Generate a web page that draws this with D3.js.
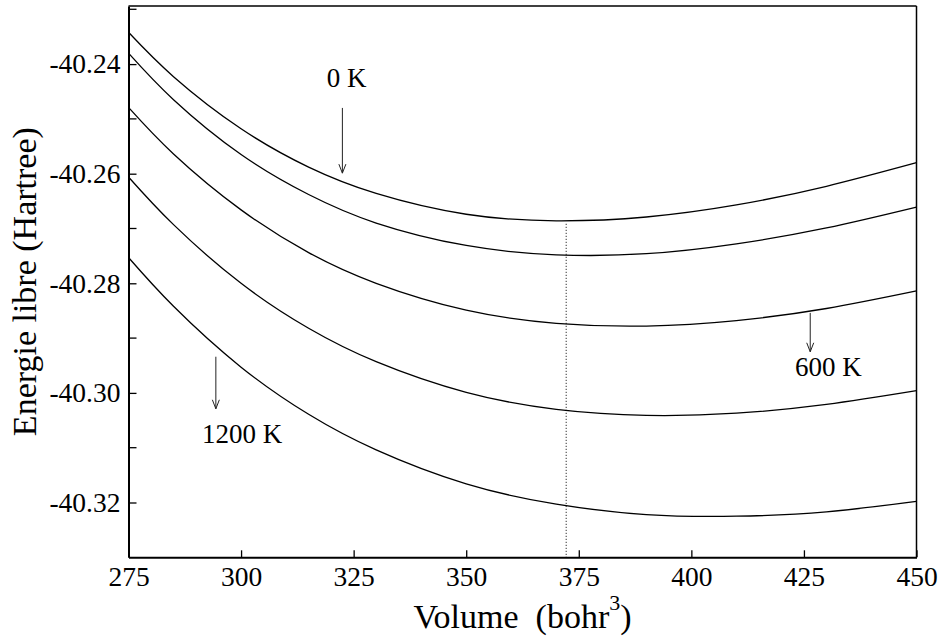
<!DOCTYPE html>
<html>
<head>
<meta charset="utf-8">
<script src="https://cdn.jsdelivr.net/npm/d3@7"></script>
<style>
  html, body { margin: 0; padding: 0; background: #fff; }
  svg { display: block; font-family: "Liberation Serif", "Times New Roman", serif; }
</style>
</head>
<body>
<svg id="chart" width="942" height="640"></svg>
<script>
// Free energy vs. volume at several temperatures
const volumes = [275, 285, 300, 315, 330, 350, 370, 390, 410, 430, 450];
const energy0K    = [-40.2342, -40.2423, -40.2518, -40.2588, -40.2636, -40.2674, -40.2686, -40.2679, -40.2657, -40.2623, -40.2580];
const energy300K  = [-40.2380, -40.2465, -40.2565, -40.2638, -40.2690, -40.2731, -40.2748, -40.2746, -40.2728, -40.2699, -40.2661];
const energy600K  = [-40.2479, -40.2564, -40.2666, -40.2744, -40.2800, -40.2849, -40.2873, -40.2878, -40.2868, -40.2846, -40.2814];
const energy900K  = [-40.2606, -40.2693, -40.2800, -40.2882, -40.2943, -40.2999, -40.3030, -40.3041, -40.3037, -40.3021, -40.2996];
const energy1200K = [-40.2753, -40.2842, -40.2953, -40.3039, -40.3104, -40.3166, -40.3203, -40.3222, -40.3225, -40.3217, -40.3198];
const seriesList = [energy0K, energy300K, energy600K, energy900K, energy1200K];

const xTicks = [275, 300, 325, 350, 375, 400, 425, 450];
const yTicks = [-40.32, -40.30, -40.28, -40.26, -40.24];
const yMinorTicks = [-40.33, -40.31, -40.29, -40.27, -40.25, -40.23];
const xDomain = [275, 450];
const yDomain = [-40.33, -40.2294];

// equilibrium volume at 0 K (dotted marker)
const eqVolume = 372.2;
const eqEnergy = -40.2686;

// annotations: label, arrow x, arrow start/end energy, label position
const notes = [
  { text: "0 K",    ax: 322.5, y0: -40.2480, y1: -40.2599, tx: 319.0, ty: -40.2442 },
  { text: "600 K",  ax: 426.4, y0: -40.2854, y1: -40.2925, tx: 423.0, ty: -40.2969 },
  { text: "1200 K", ax: 294.4, y0: -40.2934, y1: -40.3029, tx: 291.3, ty: -40.3091 }
];

const svg = d3.select("#chart");
const plotLeft = 128.5, plotRight = 916.5, plotTop = 6, plotBottom = 557.3;

const x = d3.scaleLinear().domain(xDomain).range([plotLeft, plotRight]);
const y = d3.scaleLinear().domain(yDomain).range([plotBottom, plotTop]);

// frame
svg.append("line").attr("x1", plotLeft).attr("x2", plotRight).attr("y1", plotTop).attr("y2", plotTop)
  .attr("stroke", "#000").attr("stroke-width", 1.5);
svg.append("line").attr("x1", plotRight).attr("x2", plotRight).attr("y1", plotTop).attr("y2", plotBottom)
  .attr("stroke", "#000").attr("stroke-width", 1.5);

// curves
const line = d3.line()
  .x((d, i) => x(volumes[i]))
  .y(d => y(d))
  .curve(d3.curveNatural);

const plot = svg.append("g");
plot.selectAll("path.curve")
  .data(seriesList)
  .join("path")
  .attr("class", "curve")
  .attr("d", line)
  .attr("fill", "none")
  .attr("stroke", "#000")
  .attr("stroke-width", 1.3);

// dotted equilibrium line
plot.append("line")
  .attr("x1", x(eqVolume)).attr("x2", x(eqVolume))
  .attr("y1", y(eqEnergy) + 3).attr("y2", plotBottom)
  .attr("stroke", "#000").attr("stroke-width", 1)
  .attr("stroke-dasharray", "1,2");

// annotations with arrows
const ann = svg.append("g");
notes.forEach(n => {
  const ax = x(n.ax), ya = y(n.y0), yb = y(n.y1);
  ann.append("line").attr("x1", ax).attr("x2", ax).attr("y1", ya).attr("y2", yb)
    .attr("stroke", "#222").attr("stroke-width", 1);
  ann.append("path")
    .attr("d", `M${ax - 3.5},${yb - 9} L${ax},${yb} L${ax + 3.5},${yb - 9}`)
    .attr("fill", "none").attr("stroke", "#222").attr("stroke-width", 1);
  ann.append("text").attr("x", x(n.tx)).attr("y", y(n.ty))
    .attr("font-size", 27).attr("fill", "#000").text(n.text);
});

// x axis (ticks inside)
const xAxis = d3.axisBottom(x).tickValues(xTicks).tickSizeInner(-7).tickSizeOuter(0).tickPadding(9)
  .tickFormat(d3.format("d"));
const gx = svg.append("g").attr("transform", `translate(0,${plotBottom})`).call(xAxis);
gx.select(".domain").attr("stroke-width", 2);
gx.selectAll(".tick line").attr("stroke-width", 1.3);
gx.selectAll("text").attr("font-size", 27.5).attr("font-family", "Liberation Serif").attr("fill", "#000");

// y axis (ticks inside)
const yAxis = d3.axisLeft(y).tickValues(yTicks).tickSizeInner(-8).tickSizeOuter(0).tickPadding(8)
  .tickFormat(d => d3.format(".2f")(d).replace("\u2212", "-"));
const gy = svg.append("g").attr("transform", `translate(${plotLeft},0)`).call(yAxis);
gy.select(".domain").attr("stroke-width", 2);
gy.selectAll(".tick line").attr("stroke-width", 1.3);
gy.selectAll("text").attr("font-size", 27.5).attr("font-family", "Liberation Serif").attr("fill", "#000");

// minor y ticks
svg.append("g").selectAll("line")
  .data(yMinorTicks.filter(v => y(v) > plotTop + 1 && y(v) < plotBottom - 1))
  .join("line")
  .attr("x1", plotLeft).attr("x2", plotLeft + 8)
  .attr("y1", d => y(d)).attr("y2", d => y(d))
  .attr("stroke", "#000").attr("stroke-width", 1.3);

// axis titles
const xt = svg.append("text")
  .attr("x", (plotLeft + plotRight) / 2).attr("y", 628)
  .attr("text-anchor", "middle").attr("font-size", 34)
  .style("white-space", "pre").attr("xml:space", "preserve");
xt.append("tspan").text("Volume  (bohr");
xt.append("tspan").attr("font-size", 22).attr("dy", -18).text("3");
xt.append("tspan").attr("dy", 18).text(")");

svg.append("text")
  .attr("transform", `translate(36,${(plotTop + plotBottom) / 2}) rotate(-90)`)
  .attr("text-anchor", "middle").attr("font-size", 34)
  .text("Energie libre (Hartree)");
</script>
</body>
</html>
